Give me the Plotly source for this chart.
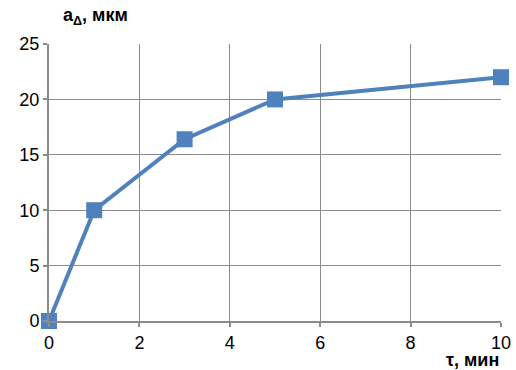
import plotly.graph_objects as go

t_min = [0, 1, 3, 5, 10]
a_mkm = [0, 10, 16.4, 20, 22]
x_ticks = [0, 2, 4, 6, 8, 10]
y_ticks = [0, 5, 10, 15, 20, 25]

fig = go.Figure()
fig.add_trace(go.Scatter(
    x=t_min, y=a_mkm, mode="lines+markers",
    line=dict(color="#4F81BD", width=4),
    marker=dict(symbol="square", size=16, color="#4F81BD"),
    cliponaxis=False, showlegend=False,
))

axis_common = dict(
    showgrid=True, gridcolor="#8C8C8C", gridwidth=1,
    showline=True, linecolor="#8C8C8C", linewidth=2,
    ticks="outside", ticklen=4, tickcolor="#8C8C8C", tickwidth=2,
    zeroline=False, automargin=False, ticklabeloverflow="allow",
    tickfont=dict(family="Liberation Sans, Arial", size=18, color="#000000"),
)
fig.update_layout(
    width=516, height=370,
    margin=dict(l=49, r=15, t=44, b=49),
    plot_bgcolor="white", paper_bgcolor="white",
    xaxis=dict(range=[0, 10], tickvals=x_ticks, **axis_common),
    yaxis=dict(range=[0, 25], tickvals=y_ticks, **axis_common),
    annotations=[
        dict(text="<b>a<sub>Δ</sub>, мкм</b>", xref="paper", yref="paper",
             x=0.026, y=1.0, yshift=14, xanchor="left", yanchor="bottom", showarrow=False,
             font=dict(family="Liberation Sans, Arial", size=18, color="#000000")),
        dict(text="<b>τ, мин</b>", xref="paper", yref="paper",
             x=1.0, y=0, yshift=-27, xanchor="right", yanchor="top", showarrow=False,
             font=dict(family="Liberation Sans, Arial", size=18, color="#000000")),
    ],
)
fig.write_html("out.html")
